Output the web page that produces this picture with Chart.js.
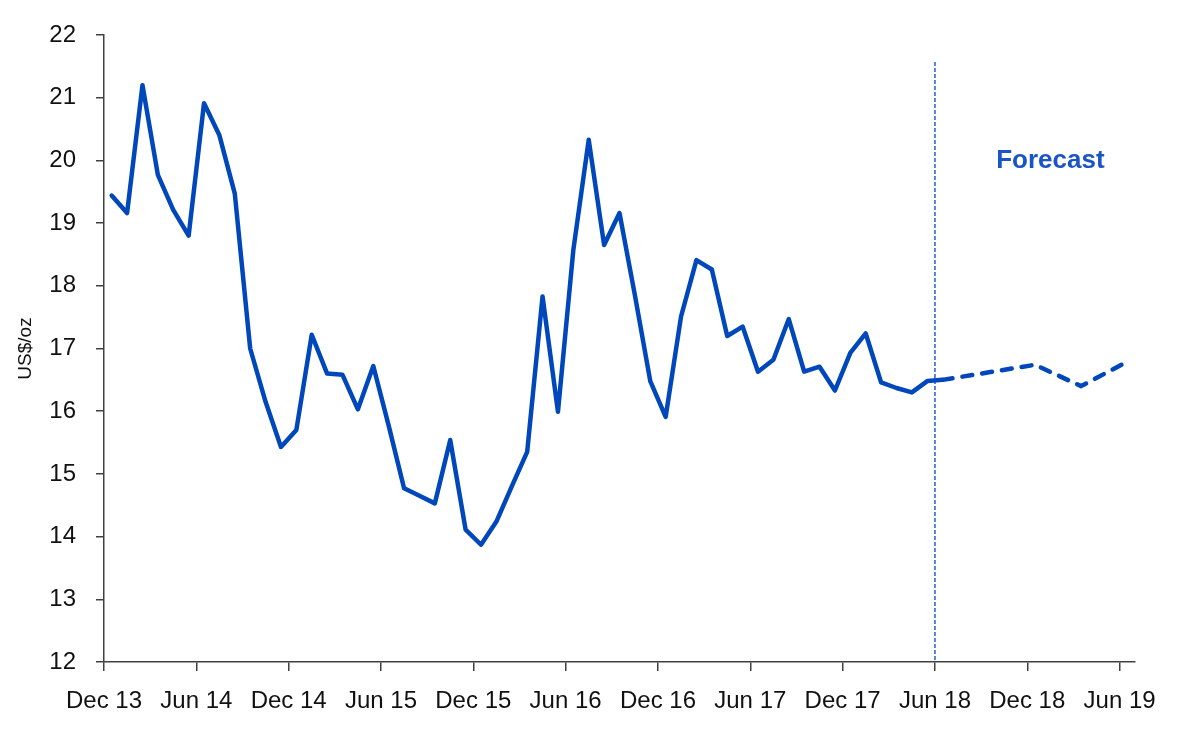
<!DOCTYPE html>
<html>
<head>
<meta charset="utf-8">
<script src="https://cdn.jsdelivr.net/npm/chart.js@4.4.1/dist/chart.umd.min.js"></script>
<style>
  html, body { margin: 0; padding: 0; background: #fff; }
  #wrap { width: 1200px; height: 735px; }
</style>
</head>
<body>
<div id="wrap"><canvas id="chart"></canvas></div>
<script>
// x axis: month index, 0 = first month after the Dec 13 tick
const tickLabels = ['Dec 13', 'Jun 14', 'Dec 14', 'Jun 15', 'Dec 15', 'Jun 16',
  'Dec 16', 'Jun 17', 'Dec 17', 'Jun 18', 'Dec 18', 'Jun 19'];
const tickPos = [-0.5, 5.5, 11.5, 17.5, 23.5, 29.5, 35.5, 41.5, 47.5, 53.5, 59.5, 65.5];

// monthly silver price, US$/oz
const actual = [
  19.44, 19.16, 21.20, 19.77, 19.21, 18.80, 20.91, 20.40, 19.47, 17.00,
  16.15, 15.43, 15.70, 17.22, 16.60, 16.58, 16.03, 16.72, 15.77, 14.77,
  14.65, 14.53, 15.54, 14.11, 13.87, 14.24, 14.80, 15.35, 17.83, 15.99,
  18.57, 20.33, 18.65, 19.16, 17.85, 16.48, 15.91, 17.51, 18.41, 18.26,
  17.20, 17.35, 16.63, 16.82, 17.47, 16.63, 16.71, 16.33, 16.93, 17.24,
  16.46, 16.37, 16.30, 16.48, 16.50
];

// quarterly forecast
const forecastMonth = [54, 57, 60, 63, 66];
const forecastVals = [16.50, 16.62, 16.74, 16.40, 16.79];

const forecastStart = 53.5;   // the Jun 18 divider
const dividerTop = 21.57;
const forecastLabel = { x: 61, y: 20, text: 'Forecast' };

const blue = '#0047BB';
const axisCol = '#404040';
const font = "'Liberation Sans', Arial, sans-serif";

Chart.defaults.color = '#111';
Chart.defaults.font.family = font;

const forecastPlugin = {
  id: 'forecast',
  beforeDatasetsDraw(chart) {
    const { ctx, scales: { x, y } } = chart;
    const px = x.getPixelForValue(forecastStart);
    ctx.save();
    ctx.strokeStyle = '#1f5fd0';
    ctx.lineWidth = 1.5;
    ctx.setLineDash([4, 2]);
    ctx.beginPath();
    ctx.moveTo(px, y.getPixelForValue(dividerTop));
    ctx.lineTo(px, y.getPixelForValue(12));
    ctx.stroke();
    ctx.restore();
  },
  afterDatasetsDraw(chart) {
    const { ctx, scales: { x, y } } = chart;
    ctx.save();
    ctx.fillStyle = '#1a55c4';
    ctx.font = "bold 26px 'Liberation Sans', Arial, sans-serif";
    ctx.textAlign = 'center';
    ctx.textBaseline = 'middle';
    ctx.fillText(forecastLabel.text, x.getPixelForValue(forecastLabel.x), y.getPixelForValue(forecastLabel.y));
    ctx.restore();
  }
};

new Chart(document.getElementById('chart'), {
  type: 'line',
  data: {
    datasets: [
      {
        label: 'Actual',
        data: actual.map((v, i) => ({ x: i, y: v })),
        borderColor: blue,
        borderWidth: 4.5,
        pointRadius: 0,
        tension: 0,
        borderJoinStyle: 'round',
        borderCapStyle: 'round'
      },
      {
        label: 'Forecast',
        data: forecastMonth.map((m, i) => ({ x: m, y: forecastVals[i] })),
        borderColor: blue,
        borderWidth: 4.5,
        borderDash: [10, 10],
        pointRadius: 0,
        tension: 0,
        borderJoinStyle: 'round',
        borderCapStyle: 'round'
      }
    ]
  },
  options: {
    responsive: true,
    maintainAspectRatio: false,
    animation: false,
    layout: { padding: { top: 35, right: 65, left: 0, bottom: 0 } },
    plugins: {
      legend: { display: false },
      tooltip: { enabled: false }
    },
    scales: {
      x: {
        type: 'linear',
        min: -0.5,
        max: 66.5,
        afterBuildTicks: (s) => { s.ticks = tickPos.map(v => ({ value: v })); },
        afterFit: (s) => { s.height = 73; },
        ticks: {
          autoSkip: false,
          maxRotation: 0,
          padding: 16,
          font: { size: 24 },
          callback: (v) => {
            const k = tickPos.indexOf(v);
            return k >= 0 ? tickLabels[k] : '';
          }
        },
        grid: { drawOnChartArea: false, drawTicks: true, tickLength: 9, color: axisCol, lineWidth: 1.5 },
        border: { display: true, color: axisCol, width: 1.5 }
      },
      y: {
        min: 12,
        max: 22,
        afterFit: (s) => { s.width = 104; },
        ticks: { stepSize: 1, padding: 20, font: { size: 24 } },
        title: {
          display: true,
          text: 'US$/oz',
          font: { size: 19, family: "'Liberation Sans', Arial, sans-serif" },
          padding: { top: 14, bottom: 0 }
        },
        grid: { drawOnChartArea: false, drawTicks: true, tickLength: 8, color: axisCol, lineWidth: 1.5 },
        border: { display: true, color: axisCol, width: 1.5 }
      }
    }
  },
  plugins: [forecastPlugin]
});
</script>
</body>
</html>
